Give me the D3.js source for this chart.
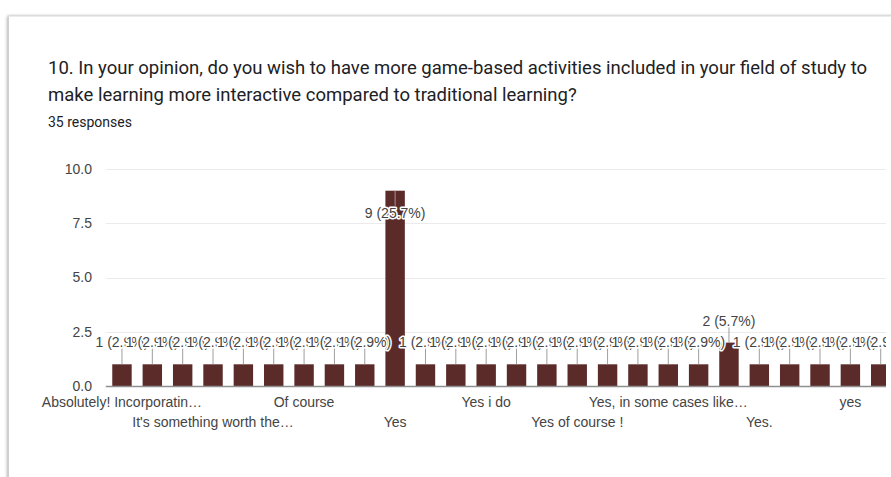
<!DOCTYPE html>
<html>
<head>
<meta charset="utf-8">
<script src="https://cdn.jsdelivr.net/npm/d3@7"></script>
<style>
  html, body { margin: 0; padding: 0; background: #fff; overflow: hidden; }
  #card {
    position: absolute; left: 8px; top: 16px; width: 920px; height: 500px;
    background: #fff;
    border-left: 1px solid #cfcfcf; border-top: 1px solid #ececec;
    box-shadow: -1px 0 3px rgba(0,0,0,0.28), 0 -1px 2px rgba(0,0,0,0.05);
  }
  svg { position: absolute; left: 0; top: 0; }
</style>
</head>
<body>
<div id="card"></div>
<svg id="chart" width="891" height="477"></svg>
<script>
// Survey question and response summary
const titleLines = [
  "10. In your opinion, do you wish to have more game-based activities included in your field of study to",
  "make learning more interactive compared to traditional learning?"
];
const responsesText = "35 responses";

// One entry per distinct answer; only every third answer gets an axis label
const categories = [
  "Absolutely! Incorporatin…", "", "", "It's something worth the…", "", "",
  "Of course", "", "", "Yes", "", "",
  "Yes i do", "", "", "Yes of course !", "", "",
  "Yes, in some cases like…", "", "", "Yes.", "", "",
  "yes", ""
];
const counts = [1, 1, 1, 1, 1, 1, 1, 1, 1, 9, 1, 1, 1, 1, 1, 1, 1, 1, 1, 1, 2, 1, 1, 1, 1, 1];
const yTicks = [0, 2.5, 5, 7.5, 10];

const total = d3.sum(counts);
const barColor = "#5b2b2a";
const textColor = "#444";

const svg = d3.select("#chart");

// Heading
const title = svg.append("g").attr("font-family", "Roboto, 'Noto Sans', sans-serif").attr("fill", "#202124");
title.selectAll("text.t").data(titleLines).join("text")
  .attr("class", "t")
  .attr("x", 48)
  .attr("y", (d, i) => 74 + i * 27)
  .attr("font-size", 18.5)
  .text(d => d);
title.append("text")
  .attr("x", 48).attr("y", 127)
  .attr("font-size", 14)
  .text(responsesText);

// Plot geometry
const plotLeft = 106.8, step = 30.35, plotTop = 169, plotBottom = 386, clipRight = 886;

const x = d3.scaleBand()
  .domain(d3.range(categories.length))
  .range([plotLeft, plotLeft + step * categories.length])
  .paddingInner(0.36)
  .paddingOuter(0.18);

const y = d3.scaleLinear().domain([0, 10]).range([plotBottom, plotTop]);

svg.append("defs").append("clipPath").attr("id", "plotClip")
  .append("rect").attr("x", 0).attr("y", 0).attr("width", clipRight).attr("height", 477);

const chart = svg.append("g")
  .attr("font-family", "'Liberation Sans', Arial, sans-serif")
  .attr("clip-path", "url(#plotClip)");

// Gridlines
chart.append("g").selectAll("line").data(yTicks.filter(t => t > 0)).join("line")
  .attr("x1", plotLeft - 1).attr("x2", x.range()[1])
  .attr("y1", d => Math.round(y(d)) + 0.5).attr("y2", d => Math.round(y(d)) + 0.5)
  .attr("stroke", "#ebebeb");

// Y axis labels
const yAxis = d3.axisLeft(y).tickValues(yTicks).tickFormat(d3.format(".1f")).tickSize(0).tickPadding(0);
const yg = chart.append("g").attr("transform", `translate(${92},0)`).call(yAxis);
yg.select(".domain").remove();
yg.selectAll("text").attr("font-size", 14).attr("fill", textColor)
  .attr("font-family", "'Liberation Sans', Arial, sans-serif");

// Bars
chart.append("g").selectAll("rect").data(counts).join("rect")
  .attr("x", (d, i) => x(i))
  .attr("width", x.bandwidth())
  .attr("y", d => y(d))
  .attr("height", d => y(0) - y(d))
  .attr("fill", barColor);

// Baseline
chart.append("line")
  .attr("x1", plotLeft - 1).attr("x2", x.range()[1])
  .attr("y1", plotBottom + 0.5).attr("y2", plotBottom + 0.5)
  .attr("stroke", "#8f8f8f").attr("stroke-width", 1.5);

// Value annotations: above the bar, or inside it when there is no room
const notes = counts.map((v, i) => {
  const top = y(v);
  const inside = top - 30 < plotTop;
  return {
    cx: x(i) + x.bandwidth() / 2,
    top,
    inside,
    text: `${v} (${(v / total * 100).toFixed(1)}%)`
  };
});

const stems = chart.append("g");
stems.selectAll("line").data(notes).join("line")
  .attr("x1", d => d.cx).attr("x2", d => d.cx)
  .attr("y1", d => d.inside ? d.top : d.top - 16)
  .attr("y2", d => d.inside ? d.top + 15 : d.top)
  .attr("stroke", d => d.inside ? "#a89090" : "#9e9e9e")
  .attr("stroke-width", 1);

const labels = chart.append("g");
notes.forEach(d => {
  labels.append("text")
    .attr("x", d.cx)
    .attr("y", d.inside ? d.top + 27 : d.top - 17)
    .attr("text-anchor", "middle")
    .attr("font-size", 14)
    .attr("fill", textColor)
    .attr("stroke", "#fff")
    .attr("stroke-width", 3)
    .attr("stroke-linejoin", "round")
    .attr("paint-order", "stroke")
    .text(d.text);
});

// Category labels in two staggered rows
const xl = chart.append("g");
categories.forEach((c, i) => {
  if (!c) return;
  const row = (i / 3) % 2;
  xl.append("text")
    .attr("x", x(i) + x.bandwidth() / 2)
    .attr("y", 407 + row * 20)
    .attr("text-anchor", "middle")
    .attr("font-size", 14)
    .attr("fill", textColor)
    .text(c);
});
</script>
</body>
</html>
